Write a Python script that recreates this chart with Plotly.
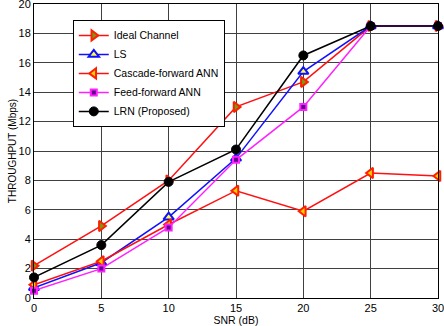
import plotly.graph_objects as go

snr = [0, 5, 10, 15, 20, 25, 30]
ideal = [2.2, 4.9, 8.0, 13.0, 14.7, 18.5, 18.5]
ls = [0.7, 2.4, 5.5, 9.5, 15.4, 18.5, 18.5]
cascade = [0.9, 2.5, 5.0, 7.3, 5.9, 8.5, 8.3]
feedfwd = [0.5, 2.0, 4.8, 9.4, 13.0, 18.5, 18.5]
lrn = [1.4, 3.6, 7.9, 10.1, 16.5, 18.5, 18.5]

series = [
    ("Ideal Channel", ideal, "#ff1010", dict(symbol="triangle-right", size=9, color="#70a010", line=dict(color="#ff2000", width=2))),
    ("LS", ls, "#1010ff", dict(symbol="triangle-up", size=9, color="#ffff40", line=dict(color="#1010ff", width=2))),
    ("Cascade-forward ANN", cascade, "#ff1010", dict(symbol="triangle-left", size=9, color="#ffd000", line=dict(color="#ff2000", width=2))),
    ("Feed-forward ANN", feedfwd, "#ff20ff", dict(symbol="square", size=6, color="#600090", line=dict(color="#ff20ff", width=2))),
    ("LRN (Proposed)", lrn, "#000000", dict(symbol="circle", size=9, color="#000000", line=dict(color="#000000", width=1))),
]

fig = go.Figure()
for name, vals, col, mk in series:
    fig.add_trace(go.Scatter(x=snr, y=vals, name=name, mode="lines+markers",
                             line=dict(color=col, width=1.5), marker=mk, cliponaxis=False))

fig.update_layout(
    width=444, height=326,
    margin=dict(l=34, r=6, t=4, b=28, autoexpand=False),
    paper_bgcolor="white", plot_bgcolor="white",
    font=dict(family="Liberation Sans, Arial", size=10, color="black"),
    legend=dict(x=0.096, y=0.946, xanchor="left", yanchor="top",
                bgcolor="white", bordercolor="black", borderwidth=1,
                font=dict(size=10.5), tracegroupgap=0, itemwidth=30),
    showlegend=True,
)
fig.update_xaxes(range=[0, 30], tickvals=[0, 5, 10, 15, 20, 25, 30], automargin=False,
                 showgrid=True, gridcolor="#404040", gridwidth=1,
                 showline=True, linecolor="black", mirror=True, zeroline=False,
                 ticks="", ticklabeloverflow="allow", tickfont=dict(size=11),
                 title=dict(text="SNR (dB)", standoff=0, font=dict(size=10.5)))
fig.update_yaxes(range=[0, 20], tickvals=list(range(0, 21, 2)), automargin=False,
                 showgrid=True, gridcolor="#404040", gridwidth=1,
                 showline=True, linecolor="black", mirror=True, zeroline=False,
                 ticks="", ticklabeloverflow="allow", tickfont=dict(size=11),
                 title=dict(text="THROUGHPUT (Mbps)", standoff=0, font=dict(size=10)))

fig.write_html("out.html", post_script="document.body.style.margin='0px';",
               config={"displayModeBar": False})
